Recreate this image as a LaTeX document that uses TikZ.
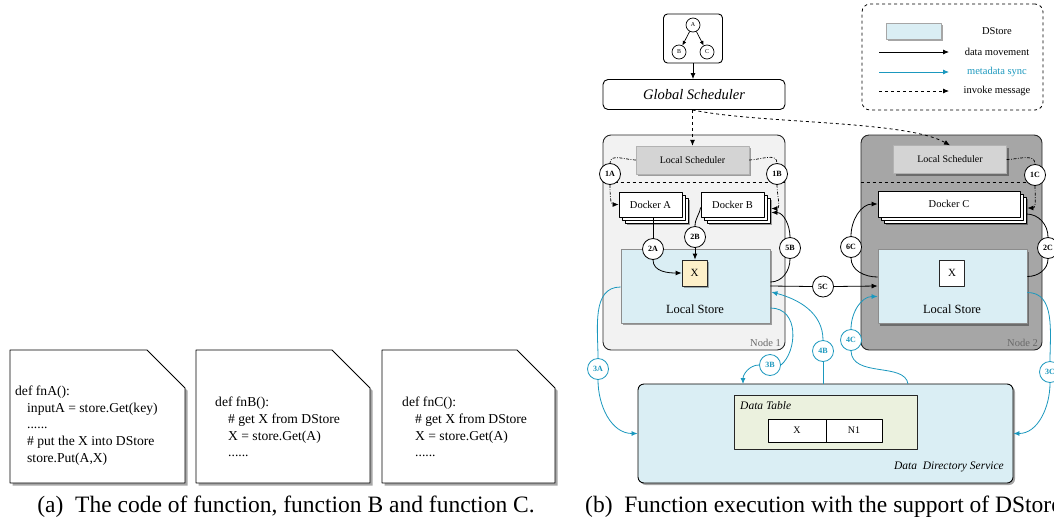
\documentclass[tikz,border=0pt]{standalone}
\usepackage{fontspec}
\setmainfont{Liberation Serif}
\usetikzlibrary{shadows,arrows.meta,calc}
\definecolor{mcyan}{RGB}{27,152,190}
\definecolor{storeblue}{RGB}{218,238,244}
\definecolor{nodeonefill}{RGB}{242,242,242}
\definecolor{nodetwofill}{RGB}{166,166,166}
\definecolor{schedfill}{RGB}{212,212,212}
\definecolor{xfill}{RGB}{253,240,201}
\definecolor{tablefill}{RGB}{235,241,222}
\definecolor{labelgray}{RGB}{105,105,105}
\tikzset{
  fs/.style={font=\fontsize{#1}{#1}\selectfont},
  shad/.style={drop shadow={shadow xshift=2pt,shadow yshift=-2pt,fill=black,opacity=0.35}},
  rbox/.style 2 args={draw, inner sep=0pt, minimum width=#1, minimum height=#2},
  hostbox/.style={draw=black!85, line width=0.9pt, rounded corners=8pt, inner sep=0pt},
  sched/.style={rbox={113pt}{28pt}, draw=black!30, fill=schedfill, shad, fs=10},
  docker/.style={draw=black, line width=0.8pt, fill=white, inner sep=0pt, minimum height=25pt, fs=10.5},
  store/.style={rbox={149pt}{74pt}, draw=black!45, line width=0.9pt, fill=storeblue, shad},
  xbox/.style={rbox={25pt}{26pt}, draw=black!85, line width=0.8pt, fs=11},
  lbl/.style={circle, draw=black, line width=0.8pt, fill=white, minimum size=21pt, inner sep=0pt, font=\fontsize{8}{8}\selectfont\bfseries},
  clbl/.style={lbl, draw=mcyan, text=mcyan},
  dagc/.style={circle, draw=black, line width=0.7pt, fill=white, minimum size=14pt, inner sep=0pt, fs=6},
  flow/.style={line width=0.8pt, -{Latex[length=6pt,width=5pt]}},
  plain/.style={line width=0.8pt},
  meta/.style={line width=0.8pt, draw=mcyan},
  metaarrow/.style={meta, -{Latex[length=6pt,width=5pt]}},
  inv/.style={line width=0.8pt, dashed, -{Latex[length=6pt,width=5pt]}},
  ddot/.style={line width=0.7pt, dash pattern=on 3pt off 1.5pt on 0.8pt off 1.5pt},
  ddotarrow/.style={ddot, -{Latex[length=6pt,width=5pt]}},
  codetxt/.style={align=left, inner sep=0pt, font=\fontsize{13.6}{16.8}\selectfont},
}
\begin{document}
\begin{tikzpicture}[x=1pt,y=-1pt,line join=round]
\useasboundingbox (0,0) rectangle (1054,520);
\clip (0,0) rectangle (1054,520);
\fill[white] (0,0) rectangle (1054,520);

% ---------- (a) code notes ----------
\foreach \xl/\xr in {10/185,196/370,382/555}{
  \fill[black!35] (\xl+2.5,352.5) -- (\xr-38+2.5,352.5) -- (\xr+2.5,390.5) -- (\xr+2.5,485.5) -- (\xl+2.5,485.5) -- cycle;
  \draw[line width=0.9pt, fill=white] (\xl,350) -- (\xr-38,350) -- (\xr,388) -- (\xr,483) -- (\xl,483) -- cycle;
}
\node[codetxt, anchor=west] (codeA) at (15,425.5) {def fnA():\\\hspace*{12pt}inputA = store.Get(key)\\\hspace*{12pt}......\\\hspace*{12pt}\# put the X into DStore\\\hspace*{12pt}store.Put(A,X)};
\node[codetxt, anchor=west] (codeB) at (215,427) {def fnB():\\\hspace*{13pt}\# get X from DStore\\\hspace*{13pt}X = store.Get(A)\\\hspace*{13pt}......};
\node[codetxt, anchor=west] (codeC) at (402,427) {def fnC():\\\hspace*{13pt}\# get X from DStore\\\hspace*{13pt}X = store.Get(A)\\\hspace*{13pt}......};
\node[fs=23.5, inner sep=0pt] (capa) at (286,507) {(a)~~The code of function, function B and function C.};
\node[fs=23.5, inner sep=0pt, anchor=west] (capb) at (585,507) {(b)~~Function execution with the support of DStore};

% ---------- (b) top: DAG and global scheduler ----------
\node[draw, line width=0.9pt, rounded corners=4pt, minimum width=59pt, minimum height=49pt, fill=white] (dag) at (693,38.5) {};
\node[dagc] (na) at (693,25) {A};
\node[dagc] (nb) at (679,52) {B};
\node[dagc] (nc) at (707,52) {C};
\draw[line width=0.7pt, -{Latex[length=4.5pt,width=4pt]}] (na) -- (nb);
\draw[line width=0.7pt, -{Latex[length=4.5pt,width=4pt]}] (na) -- (nc);
\node[draw, line width=0.9pt, rounded corners=5pt, minimum width=182pt, minimum height=30pt, fill=white, font=\fontsize{14.5}{14.5}\selectfont\itshape] (gs) at (694,94.5) {Global Scheduler};

% ---------- legend ----------
\node[draw, dashed, line width=0.8pt, rounded corners=8pt, minimum width=181pt, minimum height=106pt] (legend) at (952.5,57) {};
\node[draw=black!35, fill=storeblue, minimum width=55pt, minimum height=16pt, inner sep=0pt, shad] (lgsw) at (913.5,31) {};
\node[fs=10.5] (lgt1) at (997,31) {DStore};
\coordinate (lga1) at (879,52); \coordinate (lgb1) at (949,52);
\coordinate (lga2) at (879,72); \coordinate (lgb2) at (949,72);
\coordinate (lga3) at (879,91); \coordinate (lgb3) at (949,91);
\draw[flow] (lga1) -- (lgb1);
\draw[metaarrow] (lga2) -- (lgb2);
\draw[inv] (lga3) -- (lgb3);
\node[fs=10.5] (lgt2) at (997,52) {data movement};
\node[fs=10.5, text=mcyan] (lgt3) at (997,72) {metadata sync};
\node[fs=10.5] (lgt4) at (997,91) {invoke message};

% ---------- host boxes ----------
\node[hostbox, fill=nodeonefill, minimum width=182pt, minimum height=215pt] (host1) at (694,242.5) {};
\node[hostbox, fill=nodetwofill, minimum width=181pt, minimum height=215pt] (host2) at (951.5,242.5) {};
\node[anchor=south east, text=labelgray, fs=10.5, inner sep=0pt] (n1lbl) at (781,347) {Node 1};
\node[anchor=south east, text=labelgray, fs=10.5, inner sep=0pt] (n2lbl) at (1038,347) {Node 2};
\draw[plain, dashed] (host1.west |- 0,182) -- (host1.east |- 0,182);
\draw[plain, dashed] (host2.west |- 0,182) -- (host2.east |- 0,182);

% schedulers
\node[sched] (ls1) at (692.5,160) {Local Scheduler};
\node[sched] (ls2) at (950,159.5) {Local Scheduler};

% dockers
\node[docker, minimum width=63pt, shad] (dAb2) at (656.5,210.5) {};
\node[docker, minimum width=63pt] (dAb1) at (653.5,207.5) {};
\node[docker, minimum width=63pt] (dA) at (650.5,204.5) {Docker A};
\node[docker, minimum width=63pt, shad] (dBb2) at (738.5,210.5) {};
\node[docker, minimum width=63pt] (dBb1) at (735.5,207.5) {};
\node[docker, minimum width=63pt] (dB) at (732.5,204.5) {Docker B};
\node[docker, minimum width=142pt, minimum height=26pt, shad] (dCb2) at (955,210) {};
\node[docker, minimum width=142pt, minimum height=26pt] (dCb1) at (952,207) {};
\node[docker, minimum width=142pt, minimum height=26pt] (dC) at (949,204) {Docker C};

% stores
\node[store] (st1) at (695.5,286) {};
\node[fs=12.5] (st1t) at (695,309) {Local Store};
\node[xbox, fill=xfill, drop shadow={shadow xshift=1.5pt,shadow yshift=-1.5pt,fill=black,opacity=0.3}] (x1) at (694.5,273) {X};
\node[store] (st2) at (952.5,286.5) {};
\node[fs=12.5] (st2t) at (952,309) {Local Store};
\node[xbox, fill=white] (x2) at (952,273) {X};

% data directory service
\node[draw, line width=0.9pt, rounded corners=6pt, fill=storeblue, minimum width=375pt, minimum height=99pt, inner sep=0pt, shad] (dds) at (825.5,433.5) {};
\node[rbox={183pt}{54pt}, draw=black!85, line width=0.8pt, fill=tablefill] (dt) at (825.5,422) {};
\node[anchor=west, inner sep=0pt, font=\fontsize{11.5}{11.5}\selectfont\itshape] (dtt) at (740,406) {Data Table};
\node[rbox={58pt}{23pt}, line width=0.8pt, fill=white, fs=10] (cx) at (797,430.5) {X};
\node[rbox={56pt}{23pt}, line width=0.8pt, fill=white, fs=10] (cn) at (854,430.5) {N1};
\node[anchor=east, inner sep=0pt, font=\fontsize{11.5}{11.5}\selectfont\itshape] (ddst) at (1004,467) {Data~~Directory Service};
\coordinate (dds3b) at (743,384);
\coordinate (dds4c) at (908,384);

% step labels
\node[lbl] (c1a) at (610,174) {1A};
\node[lbl] (c1b) at (777,174) {1B};
\node[lbl] (c1c) at (1035,175) {1C};
\node[lbl] (c2a) at (653,249) {2A};
\node[lbl] (c2b) at (695,237) {2B};
\node[lbl] (c5b) at (790,248) {5B};
\node[lbl] (c5c) at (823,286.5) {5C};
\node[lbl] (c6c) at (851,247) {6C};
\node[lbl] (c2c) at (1048,248) {2C};
\node[clbl] (c3a) at (598,369) {3A};
\node[clbl] (c3b) at (770,365) {3B};
\node[clbl] (c4b) at (823,351) {4B};
\node[clbl] (c4c) at (851,340) {4C};
\node[clbl] (c3c) at (1050,372) {3C};

% ---------- connectors ----------
\draw[flow] (dag.south) -- (dag.south |- gs.north);
\draw[inv] (ls1.north |- gs.south) -- (ls1.north);
\draw[inv] (ls1.north |- gs.south) .. controls (760,124) and (905,120) .. (ls2.north);

% invoke inside nodes (dash-dot)
\draw[ddot] (ls1.west) to[out=180,in=90] (c1a.north);
\draw[ddotarrow] (c1a.south) to[out=-90,in=180] (dA.west);
\draw[ddot] (ls1.east) to[out=0,in=90] (c1b.north);
\draw[ddotarrow] (c1b.south) to[out=-90,in=0] ($(dB.east)+(7,4)$);
\draw[ddot] (ls2.east) to[out=0,in=90] (c1c.north);
\draw[ddotarrow] (c1c.south) to[out=-90,in=0] ($(dC.east)+(7,4)$);

% data movement
\draw[plain] (dA.south -| c2a.north) -- (c2a.north);
\draw[flow] (c2a.south) to[out=-90,in=180] (x1.west);
\draw[plain] ($(dB.west)+(0,3)$) to[out=-100,in=90] (c2b.north);
\draw[flow] (c2b.south) -- (c2b.south |- x1.north);
\draw[plain] ($(st1.east)+(0,-4)$) to[out=0,in=-90] (c5b.south);
\draw[flow] (c5b.north) to[out=90,in=0] ($(dB.east)+(7,8)$);
\draw[plain] (st1.east) -- (c5c.west);
\draw[flow] (c5c.east) -- (st1.east -| st2.west);
\draw[plain] ($(st2.west)+(0,-9.5)$) to[out=180,in=-90] (c6c.south);
\draw[flow] (c6c.north) to[out=90,in=180] (dC.west);
\draw[plain] ($(dC.east)+(6,10)$) to[out=0,in=90] (c2c.north);
\draw[plain] (c2c.south) to[out=-90,in=0] ($(st2.east)+(0,-10)$);

% metadata sync
\draw[meta] ($(st1.west)+(0,1)$) to[out=180,in=90] (c3a.north);
\draw[metaarrow] (c3a.south) to[out=-90,in=180] (dds.west);
\draw[meta] ($(st1.east)+(0,22)$) .. controls (800,308) and (797,352) .. (c3b.east);
\draw[metaarrow] (c3b.west) to[out=180,in=90] (dds3b);
\draw[metaarrow] (c4b.north) to[out=90,in=-15] ($(st1.east)+(1,6)$);
\draw[meta] (c4b.south) -- (c4b.south |- dds.north);
\draw[metaarrow] (c4c.north) to[out=90,in=180] ($(st2.west)+(0,10)$);
\draw[meta] (c4c.south) .. controls (852,378) and (905,362) .. (dds4c);
\draw[meta] ($(st2.east)+(0,6)$) to[out=0,in=90] (c3c.north);
\draw[metaarrow] (c3c.south) to[out=-90,in=0] (dds.east);
\end{tikzpicture}
\end{document}
